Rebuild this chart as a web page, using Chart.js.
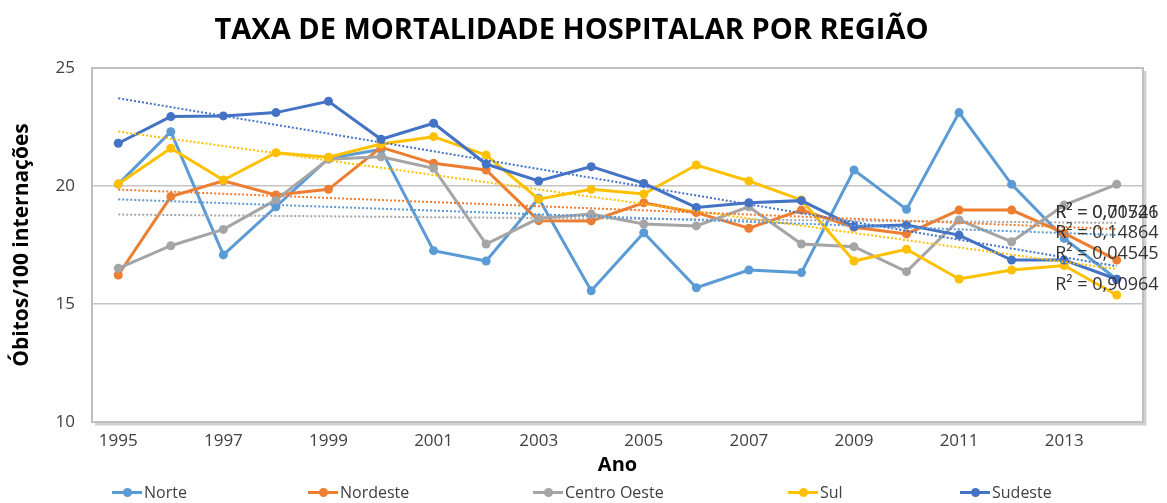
<!DOCTYPE html>
<html>
<head>
<meta charset="utf-8">
<script src="https://cdn.jsdelivr.net/npm/chart.js@4/dist/chart.umd.min.js"></script>
<style>
  body { margin: 0; background: #fff; }
  #wrap { position: relative; width: 1167px; height: 503px; overflow: hidden; }
  #legend { position: absolute; left: 0; top: 482px; width: 1167px; height: 21px; font-family: "Open Sans", sans-serif; font-size: 16px; color: #404040; }
  .item { position: absolute; top: 0; display: flex; align-items: center; height: 20px; }
  .sym { position: relative; width: 30px; height: 20px; margin-right: 2px; }
  .sym .ln { position: absolute; left: 0; right: 0; top: 9px; height: 3px; }
  .sym .dt { position: absolute; left: 11px; top: 6px; width: 9px; height: 9px; border-radius: 50%; }
</style>
</head>
<body>
<div id="wrap">
  <canvas id="chart" width="1167" height="503"></canvas>
  <div id="legend"></div>
</div>
<script>
// dados
const anos = [1995, 1996, 1997, 1998, 1999, 2000, 2001, 2002, 2003, 2004, 2005, 2006, 2007, 2008, 2009, 2010, 2011, 2012, 2013, 2014];
const norte = [20.08, 22.30, 17.08, 19.12, 21.17, 21.55, 17.26, 16.82, 19.48, 15.56, 18.02, 15.69, 16.44, 16.33, 20.68, 19.01, 23.11, 20.07, 17.78, 16.05];
const nordeste = [16.23, 19.55, 20.22, 19.62, 19.86, 21.64, 20.96, 20.68, 18.53, 18.52, 19.29, 18.87, 18.21, 18.98, 18.25, 17.97, 18.98, 18.98, 18.00, 16.86];
const centroOeste = [16.51, 17.47, 18.16, 19.41, 21.13, 21.24, 20.75, 17.54, 18.63, 18.81, 18.39, 18.31, 19.12, 17.54, 17.43, 16.37, 18.56, 17.64, 19.19, 20.07];
const sul = [20.08, 21.60, 20.25, 21.41, 21.22, 21.78, 22.09, 21.31, 19.44, 19.86, 19.66, 20.89, 20.21, 19.41, 16.82, 17.32, 16.06, 16.44, 16.63, 15.38];
const sudeste = [21.81, 22.94, 22.97, 23.11, 23.59, 21.98, 22.66, 20.93, 20.21, 20.82, 20.11, 19.09, 19.29, 19.38, 18.28, 18.35, 17.92, 16.86, 16.86, 16.05];
const yTicks = [10, 15, 20, 25];
const r2Textos = ['R² = 0,00526', 'R² = 0,71741', 'R² = 0,14864', 'R² = 0,04545', 'R² = 0,90964'];

const series = [
  { nome: 'Norte', dados: norte, cor: '#5B9BD5' },
  { nome: 'Nordeste', dados: nordeste, cor: '#ED7D31' },
  { nome: 'Centro Oeste', dados: centroOeste, cor: '#A5A5A5' },
  { nome: 'Sul', dados: sul, cor: '#FFC000' },
  { nome: 'Sudeste', dados: sudeste, cor: '#4472C4' }
];

// linha de tendência linear (mínimos quadrados), como a do Excel
function tendencia(vals) {
  const n = vals.length;
  const mx = (n - 1) / 2;
  const my = vals.reduce((a, b) => a + b, 0) / n;
  let sxy = 0, sxx = 0;
  vals.forEach((v, i) => { sxy += (i - mx) * (v - my); sxx += (i - mx) * (i - mx); });
  const b = sxy / sxx;
  return vals.map((v, i) => my + b * (i - mx));
}

const datasets = [];
series.forEach((s, i) => {
  datasets.push({
    label: s.nome,
    data: s.dados,
    borderColor: s.cor,
    backgroundColor: s.cor,
    borderWidth: 3,
    pointRadius: 4.5,
    pointBorderWidth: 0,
    tension: 0,
    order: 10 - i
  });
});
series.forEach((s, i) => {
  datasets.push({
    label: 'Linear (' + s.nome + ')',
    data: tendencia(s.dados),
    borderColor: s.cor,
    borderWidth: 2,
    borderDash: [2, 2],
    pointRadius: 0,
    tension: 0,
    order: 1
  });
});

// caixa da área de plotagem
const caixa = {
  id: 'caixa',
  afterDraw(chart) {
    const { ctx, chartArea: a } = chart;
    ctx.save();
    ctx.strokeStyle = '#d0d0d0';
    ctx.lineWidth = 3;
    ctx.beginPath();
    ctx.moveTo(a.right + 2, a.top + 3);
    ctx.lineTo(a.right + 2, a.bottom + 2);
    ctx.lineTo(a.left + 3, a.bottom + 2);
    ctx.stroke();
    ctx.strokeStyle = '#bfbfbf';
    ctx.lineWidth = 2;
    ctx.strokeRect(a.left, a.top, a.right - a.left, a.bottom - a.top);
    ctx.restore();
  }
};

// rótulos R² das linhas de tendência
const rotulosR2 = {
  id: 'rotulosR2',
  afterDraw(chart) {
    const { ctx, scales: { x, y } } = chart;
    const posY = [18.86, 18.86, 18.0, 17.12, 15.8];
    ctx.save();
    ctx.font = '18px "Open Sans"';
    ctx.fillStyle = '#333333';
    ctx.textBaseline = 'middle';
    r2Textos.forEach((t, i) => {
      ctx.fillText(t, x.getPixelForValue(18) - 9, y.getPixelForValue(posY[i]));
    });
    ctx.restore();
  }
};

new Chart(document.getElementById('chart'), {
  type: 'line',
  data: { labels: anos, datasets: datasets },
  plugins: [caixa, rotulosR2],
  options: {
    responsive: false,
    animation: false,
    layout: { padding: { left: 0, right: 24, top: 0, bottom: 23 } },
    plugins: {
      legend: { display: false },
      tooltip: { enabled: false },
      title: {
        display: true,
        text: 'TAXA DE MORTALIDADE HOSPITALAR POR REGIÃO',
        color: '#000',
        font: { family: '"Open Sans"', size: 29, weight: 'bold' },
        padding: { top: 13, bottom: 20.2 }
      }
    },
    scales: {
      x: {
        offset: true,
        grid: { display: false, drawTicks: false },
        border: { display: false },
        ticks: {
          autoSkip: false,
          maxRotation: 0,
          padding: 9,
          color: '#404040',
          font: { family: '"Open Sans"', size: 17 },
          callback: function (v, i) { return i % 2 === 0 ? anos[i] : ''; }
        },
        title: {
          display: true,
          text: 'Ano',
          color: '#000',
          font: { family: '"Open Sans"', size: 20, weight: 'bold' },
          padding: { top: 0, bottom: 3 }
        },
        afterFit(scale) { scale.height = 58; }
      },
      y: {
        min: 10,
        max: 25,
        afterBuildTicks(scale) { scale.ticks = yTicks.map(v => ({ value: v })); },
        grid: { color: '#c4c4c4', lineWidth: 1.5, drawTicks: false },
        border: { display: false },
        ticks: {
          padding: 17,
          color: '#404040',
          font: { family: '"Open Sans"', size: 17 }
        },
        title: {
          display: true,
          text: 'Óbitos/100 internações',
          color: '#000',
          font: { family: '"Open Sans"', size: 21, weight: 'bold' },
          padding: { top: 9, bottom: 0 }
        },
        afterFit(scale) { scale.width = 92; }
      }
    }
  }
});

// legenda
const posLegenda = [112, 308, 533, 788, 960];
const leg = document.getElementById('legend');
series.forEach((s, i) => {
  const it = document.createElement('div');
  it.className = 'item';
  it.style.left = posLegenda[i] + 'px';
  it.innerHTML = '<span class="sym"><span class="ln" style="background:' + s.cor + '"></span><span class="dt" style="background:' + s.cor + '"></span></span><span>' + s.nome + '</span>';
  leg.appendChild(it);
});
</script>
</body>
</html>
